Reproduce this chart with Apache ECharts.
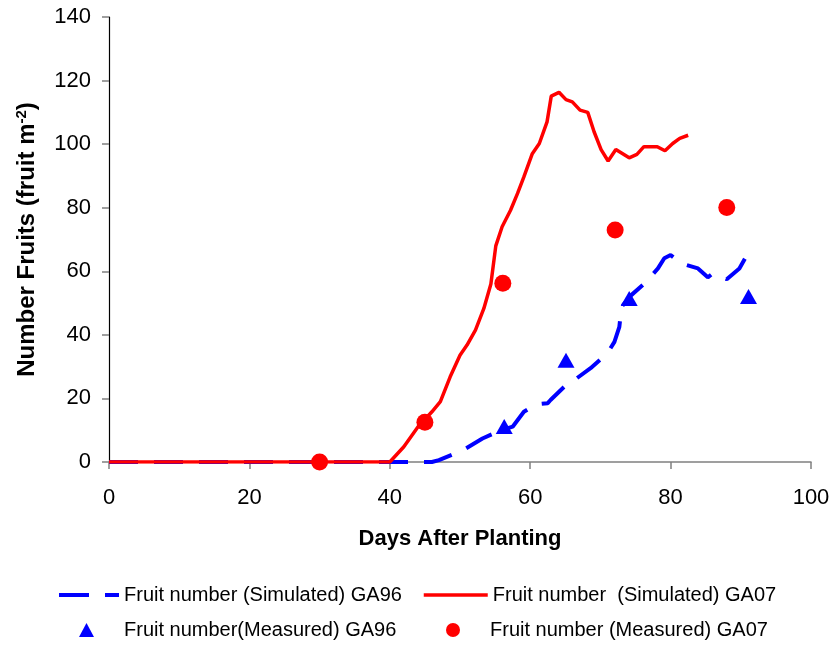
<!DOCTYPE html>
<html>
<head>
<meta charset="utf-8">
<script src="https://cdn.jsdelivr.net/npm/echarts@6/dist/echarts.min.js"></script>
<style>
  html, body { margin: 0; padding: 0; background: #fff; }
</style>
</head>
<body>
<div id="fruit-chart" style="width: 836px; height: 649px"></div>
<script>
// Simulated fruit number GA07 [day, fruit m-2]
const simGA07 = [
  [0, 0], [10, 0], [20, 0], [30, 0], [40, 0], [42, 4.8], [44, 11], [46, 15.8],
  [47.2, 19], [48.6, 26.8], [50, 33.6], [51, 36.8], [52.2, 41.5], [53.4, 48.3],
  [54.4, 56], [55.1, 68], [56, 74], [57.2, 79.2], [58.2, 84.5], [59.1, 89.7],
  [60.3, 97], [61.3, 100.2], [62.4, 107], [63, 115.1], [64.1, 116.3], [65.1, 114],
  [66, 113.3], [67.1, 110.7], [68.2, 110], [69.1, 103.9], [70.1, 98.3], [71.1, 94.7],
  [72.2, 98.3], [74.1, 95.7], [75.2, 96.8], [76.2, 99.2], [78.1, 99.2], [79.2, 97.9],
  [80.3, 100.2], [81.3, 101.8], [82.5, 102.8]
];

// Simulated fruit number GA96
const simGA96 = [
  [0, 0], [10, 0], [20, 0], [30, 0], [40, 0], [46, 0], [47, 0.6], [50.5, 3.8],
  [53.2, 7.4], [55.3, 9.5], [57.5, 11.1], [59.1, 15.8], [60.8, 18.1], [62.5, 18.5],
  [62.9, 19.5], [65.1, 24.2], [66.3, 25.8], [68.6, 29.5], [71, 34.2], [72, 37.8],
  [72.7, 42.5], [73, 48.8], [74.4, 52.5], [76.3, 56.2], [78.2, 60.9], [79.1, 64.1],
  [80, 65.1], [81.5, 62.5], [83.9, 60.9], [85.3, 58.1], [86, 59.3], [87.2, 58.3],
  [88, 57.5], [89.8, 60.9], [91, 65.6]
];

// Measured values
const measGA96 = [[56.3, 11.2], [65.1, 32], [74.1, 51.4], [91.1, 52.1]];
const measGA07 = [[30, 0], [45, 12.5], [56.1, 56.2], [72.1, 73], [88, 80.1]];

const seriesNames = [
  "Fruit number (Simulated) GA96",
  "Fruit number  (Simulated) GA07",
  "Fruit number(Measured) GA96",
  "Fruit number (Measured) GA07"
];

const FONT = "Liberation Sans, Arial, sans-serif";

const chart = echarts.init(document.getElementById("fruit-chart"));

// one legend box per item so each can sit where the original has it
function legendFor(name, left, top, w, h, padLeft, extra) {
  return Object.assign({
    data: [name],
    left: left,
    top: top,
    padding: 0,
    itemWidth: w,
    itemHeight: h,
    itemGap: 0,
    selectedMode: false,
    textStyle: {
      fontFamily: FONT,
      fontSize: 20,
      color: "#000",
      padding: [0, 0, 0, padLeft]
    }
  }, extra || {});
}

const option = {
  backgroundColor: "#fff",
  animation: false,
  grid: { left: 109, right: 25, top: 17, bottom: 187 },
  legend: [
    legendFor(seriesNames[0], 57, 585, 60, 14, 0, {
      itemStyle: { opacity: 0 },
      lineStyle: { type: [30, 16], width: 4 }
    }),
    legendFor(seriesNames[1], 422, 585, 64, 14, 0, {
      itemStyle: { opacity: 0 },
      lineStyle: { width: 3.5 }
    }),
    legendFor(seriesNames[2], 79, 620, 15, 14, 25),
    legendFor(seriesNames[3], 446, 620, 14, 14, 25)
  ],
  xAxis: {
    type: "value",
    min: 0,
    max: 100,
    interval: 20,
    name: "Days After Planting",
    nameLocation: "middle",
    nameGap: 66,
    nameTextStyle: { fontFamily: FONT, fontSize: 22, fontWeight: "bold", color: "#000" },
    axisLine: { onZero: false, lineStyle: { color: "#808080", width: 1.5 } },
    axisTick: { length: 7, lineStyle: { color: "#808080", width: 1.5 } },
    axisLabel: { margin: 25, fontFamily: FONT, fontSize: 22, color: "#000" },
    splitLine: { show: false }
  },
  yAxis: {
    type: "value",
    min: 0,
    max: 140,
    interval: 20,
    name: "{t|Number Fruits (fruit m}{s|-2}{t|)}",
    nameLocation: "middle",
    nameGap: 68,
    nameTextStyle: {
      rich: {
        t: { fontFamily: FONT, fontSize: 24, fontWeight: "bold", color: "#000" },
        s: { fontFamily: FONT, fontSize: 15, fontWeight: "bold", color: "#000", verticalAlign: "top", padding: [0, 0, 12, 0] }
      }
    },
    axisLine: { show: true, onZero: false, lineStyle: { color: "#000", width: 1.2 } },
    axisTick: { show: true, length: 7, lineStyle: { color: "#808080", width: 1.5 } },
    axisLabel: { margin: 18, fontFamily: FONT, fontSize: 22, color: "#000" },
    splitLine: { show: false }
  },
  series: [
    {
      name: seriesNames[0],
      type: "line",
      data: simGA96,
      symbol: "none",
      lineStyle: { color: "#0000ff", width: 4, type: [29, 16] },
      itemStyle: { color: "#0000ff" },
      z: 2
    },
    {
      name: seriesNames[1],
      type: "line",
      data: simGA07,
      symbol: "none",
      lineStyle: { color: "#ff0000", width: 3.5 },
      itemStyle: { color: "#ff0000" },
      z: 3
    },
    {
      name: seriesNames[2],
      type: "scatter",
      data: measGA96,
      symbol: "triangle",
      symbolSize: [17, 15],
      itemStyle: { color: "#0000ff", opacity: 1 },
      z: 4
    },
    {
      name: seriesNames[3],
      type: "scatter",
      data: measGA07,
      symbol: "circle",
      symbolSize: 17,
      itemStyle: { color: "#ff0000", opacity: 1 },
      z: 5
    }
  ]
};

chart.setOption(option);
</script>
</body>
</html>
